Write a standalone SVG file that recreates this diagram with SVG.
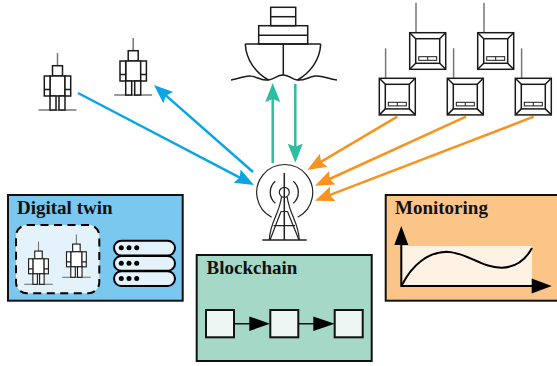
<svg xmlns="http://www.w3.org/2000/svg" xmlns:xlink="http://www.w3.org/1999/xlink" width="557" height="366" viewBox="0 0 557 366">
<style>
.ln{fill:none;stroke:#1a1a1a;stroke-width:1.5}
.wh{fill:#fff;stroke:#1a1a1a;stroke-width:1.5}
.gr{stroke:#777;stroke-width:1.5;fill:none}
.box{stroke:#111;stroke-width:2}
.ttl{font-family:"Liberation Serif",serif;font-weight:bold;font-size:19px;fill:#111}
.con{fill:none;stroke-width:2.5}
.pill{fill:#e3f2fb;stroke:#000;stroke-width:2}
.sq{fill:#edf6f3;stroke:#111;stroke-width:2}
</style>
<defs>
<marker id="hb" markerUnits="userSpaceOnUse" markerWidth="20" markerHeight="18" viewBox="0 0 20 18" refX="9" refY="9" orient="auto"><path d="M0,1.5L19,9L0,16.500L3,9Z" fill="#0aa5e2"/></marker>
<marker id="hg" markerUnits="userSpaceOnUse" markerWidth="20" markerHeight="18" viewBox="0 0 20 18" refX="9" refY="9" orient="auto"><path d="M0,1.5L19,9L0,16.500L3,9Z" fill="#2cbe9f"/></marker>
<marker id="ho" markerUnits="userSpaceOnUse" markerWidth="20" markerHeight="18" viewBox="0 0 20 18" refX="9" refY="9" orient="auto"><path d="M0,1.5L19,9L0,16.500L3,9Z" fill="#f7931e"/></marker>
<g id="robot">
<path class="gr" d="M-19,0H19"/>
<path class="gr" d="M0,-57V-44.500" stroke="#444"/>
<rect class="wh" x="-5" y="-44.300" width="10" height="10.300"/>
<rect class="wh" x="-7.500" y="-34" width="15" height="20"/>
<rect class="wh" x="-13.200" y="-34" width="5.700" height="20"/>
<rect class="wh" x="7.500" y="-34" width="5.700" height="20"/>
<path class="ln" d="M-13.200,-20.500H-7.500M7.500,-20.500H13.200"/>
<rect class="wh" x="-7.500" y="-14" width="6" height="14"/>
<rect class="wh" x="1.500" y="-14" width="6" height="14"/>
</g>
<g id="device">
<path class="gr" d="M6.300,-30V0" stroke="#444"/>
<rect class="wh" x="0" y="0" width="36" height="36.600"/>
<rect class="wh" x="6" y="6" width="24" height="24.600"/>
<path class="ln" d="M0,0L6,6M36,0L30,6M0,36.600L6,30.600M36,36.600L30,30.600"/>
<rect x="9" y="24" width="18" height="3.600" fill="#fff" stroke="#1a1a1a" stroke-width="1"/>
<path d="M18,24V27.600" stroke="#1a1a1a" stroke-width="1"/>
</g>
</defs>

<g id="connectors">
<path class="con" stroke="#0aa5e2" d="M78,93L245.100,180.400" marker-end="url(#hb)"/>
<path class="con" stroke="#0aa5e2" d="M253,172L161.500,91.600" marker-end="url(#hb)"/>
<path class="con" stroke="#2cbe9f" d="M272.700,163V93" marker-end="url(#hg)"/>
<path class="con" stroke="#2cbe9f" d="M295.300,84V152.700" marker-end="url(#hg)"/>
<path class="con" stroke="#f7931e" d="M397.300,116.700L315.900,164.900" marker-end="url(#ho)"/>
<path class="con" stroke="#f7931e" d="M466,116.700L324.100,181.500" marker-end="url(#ho)"/>
<path class="con" stroke="#f7931e" d="M533.700,116.700L324.300,197.100" marker-end="url(#ho)"/>
</g>

<g id="robot-1"><use xlink:href="#robot" href="#robot" transform="translate(57.500,110)"/></g>
<g id="robot-2"><use xlink:href="#robot" href="#robot" transform="translate(133.200,95)"/></g>

<g id="ship" fill="none" stroke="#1a1a1a" stroke-width="1.500">
<rect x="270.700" y="7.300" width="25" height="18.400"/>
<path d="M270.700,16.700H295.700"/>
<rect x="258.700" y="25.700" width="49" height="18.300"/>
<path d="M258.700,35.300H307.700"/>
<path d="M245.300,44H320.700"/>
<path d="M245.300,44C246,60 256,73 268.500,80M320.700,44C320,60 310,73 297.500,80M283.300,44V75"/>
<path d="M231,80C240,79 245,75 251,76C258,77 262,81 268.500,80C275,79 277,75 283.300,75C290,75 292,80 297.500,80C304,81 308,77 315,76C322,75 328,79 337,80"/>
</g>

<g id="device-1"><use xlink:href="#device" href="#device" transform="translate(409.700,32.700)"/></g>
<g id="device-2"><use xlink:href="#device" href="#device" transform="translate(477.700,32.700)"/></g>
<g id="device-3"><use xlink:href="#device" href="#device" transform="translate(379.300,78.300)"/></g>
<g id="device-4"><use xlink:href="#device" href="#device" transform="translate(447.300,78.300)"/></g>
<g id="device-5"><use xlink:href="#device" href="#device" transform="translate(515.300,78.300)"/></g>

<g id="tower" fill="none" stroke="#222" stroke-width="1.200">
<path d="M271.700,217.300A28,28 0 1 1 297.700,217.300"/>
<path d="M275.300,203.300A14.500,14.500 0 0 1 275.300,181.300M293.300,181.300A14.500,14.500 0 0 1 293.300,203.300" stroke-width="1.300"/>
<circle cx="284.300" cy="192.300" r="5"/>
<path d="M284.300,173V240M262.300,240H306.700" stroke-width="1.500"/>
<path d="M281.500,197C279,215 270,222 269.300,240M287.200,197C289.500,215 298.500,222 299.300,240"/>
<path d="M281,211.500H287.500M273.500,225.700H295M281,211.500L270,240M287.500,211.500L299,240"/>
</g>

<g id="digital-twin">
<rect class="box" x="8" y="195" width="174.700" height="105.700" fill="#7ac7ef"/>
<text class="ttl" x="17" y="214">Digital twin</text>
<rect x="16" y="225" width="83.300" height="68.300" rx="11" fill="#e3f2fb" stroke="#000" stroke-width="2" stroke-dasharray="8 5.500"/>
<use xlink:href="#robot" href="#robot" transform="translate(38.500,284.300) scale(.75)"/>
<use xlink:href="#robot" href="#robot" transform="translate(76.400,277.300) scale(.75)"/>
<rect class="pill" x="114" y="240.700" width="61" height="14.800" rx="7.400"/>
<rect class="pill" x="114" y="256" width="61" height="14.800" rx="7.400"/>
<rect class="pill" x="114" y="271.200" width="61" height="14.800" rx="7.400"/>
<g fill="#000">
<circle cx="121.300" cy="247.800" r="2.500"/><circle cx="129" cy="247.800" r="2.500"/><circle cx="136.700" cy="247.800" r="2.500"/>
<circle cx="121.300" cy="263.200" r="2.500"/><circle cx="129" cy="263.200" r="2.500"/><circle cx="136.700" cy="263.200" r="2.500"/>
<circle cx="121.300" cy="278.500" r="2.500"/><circle cx="129" cy="278.500" r="2.500"/><circle cx="136.700" cy="278.500" r="2.500"/>
</g>
</g>

<g id="blockchain">
<rect class="box" x="196.700" y="255" width="175" height="106" fill="#a5d8c7"/>
<text class="ttl" x="206.500" y="274">Blockchain</text>
<rect class="sq" x="206" y="310" width="28" height="27.300"/>
<rect class="sq" x="270.300" y="310" width="28" height="27.300"/>
<rect class="sq" x="334.700" y="310" width="28" height="27.300"/>
<path d="M234,323.700H252M298.300,323.700H316" stroke="#111" stroke-width="1.500"/>
<path d="M249.300,316.400L270,323.700L249.300,331ZM313.300,316.400L334.700,323.700L313.300,331Z" fill="#000"/>
</g>

<g id="monitoring">
<rect class="box" x="385.700" y="195" width="175" height="105.700" fill="#fbc587"/>
<text class="ttl" x="395" y="214">Monitoring</text>
<rect x="402" y="246" width="130" height="40" fill="#fdf2e3"/>
<path d="M402,285C412,265 428,252 446.700,251.700C466,252 482,268 501.700,267.700C516,267.500 526,259 532,248" fill="none" stroke="#000" stroke-width="2"/>
<path d="M401.300,245V286H532" fill="none" stroke="#000" stroke-width="2"/>
<path d="M401.300,226L408.300,245H394.300ZM551.700,286L531.700,278.500V293.500Z" fill="#000"/>
</g>
</svg>
